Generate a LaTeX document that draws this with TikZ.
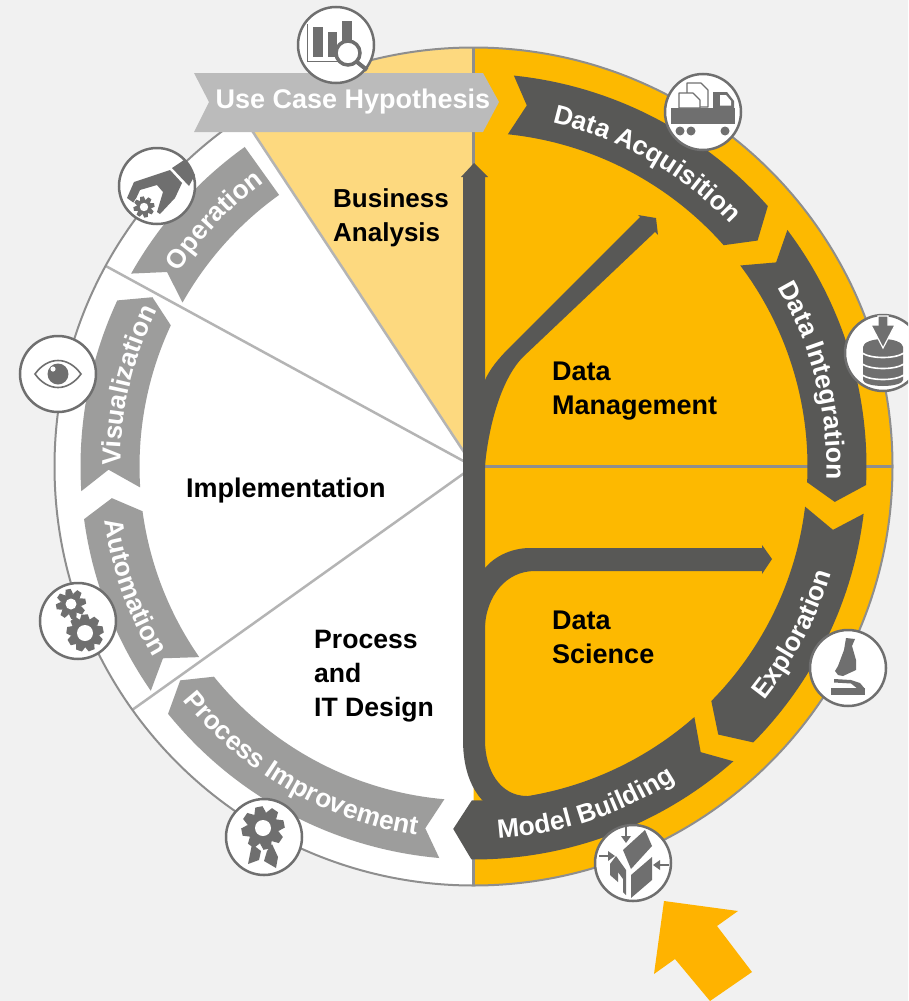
\documentclass[tikz,border=0pt]{standalone}
\usepackage{fontspec}
\setmainfont{Liberation Sans}
\usetikzlibrary{decorations.text}
\definecolor{bgc}{HTML}{F1F1F1}
\definecolor{orangec}{HTML}{FDB900}
\definecolor{palec}{HTML}{FDD97F}
\definecolor{darkc}{HTML}{585856}
\definecolor{midc}{HTML}{9D9D9C}
\definecolor{bannerc}{HTML}{BBBBBB}
\definecolor{ringc}{HTML}{8E8E8E}
\definecolor{spokec}{HTML}{B4B4B4}
\definecolor{iconc}{HTML}{6F6F6F}
\definecolor{arrowc}{HTML}{FFB300}
\tikzset{
  x=1pt,y=1pt,
  bandfill/.style={fill=#1,draw=none},
  ic/.style={fill=iconc,draw=none},
  icl/.style={draw=iconc,line width=1.1pt,fill=white,line join=round},
  disc/.style={circle,draw=iconc,line width=2.5pt,fill=white,minimum size=76pt,inner sep=0pt},
  blacklabel/.style={font=\fontsize{27}{34}\selectfont\bfseries,text=black,inner sep=0pt,align=left,anchor=west},
}
\newcommand\bandfont{\fontsize{26.4}{27}\selectfont\bfseries\color{white}}
% a1 a2 notch tip colour : clockwise chevron
\newcommand\chev[5]{\fill[bandfill=#5] (#1:393) arc[start angle=#1,end angle=#2,radius=393pt] -- (#4:363) -- (#2:334) arc[start angle=#2,end angle=#1,radius=334pt] -- (#3:365) -- cycle;}
% text, centre angle, half span (negative: counter-clockwise), radius
\newcommand\bandtext[4]{\path[decorate,decoration={text along path,text align=center,text={|\bandfont|#1}}] ({#2+#3}:#4) arc[start angle={#2+#3},end angle={#2-#3},radius=#4pt];}
% x y bodyradius outerradius teeth holeradius
\newcommand\gearshape[6]{\begin{scope}[shift={(#1,#2)}]
 \fill[ic] (0,0) circle[radius=#3pt];
 \foreach \k in {1,...,#5}{\fill[ic,rotate={\k*360/#5+11}] ({#3-1},{-0.27*#4}) -- (#4,{-0.17*#4}) -- (#4,{0.17*#4}) -- ({#3-1},{0.27*#4}) -- cycle;}
 \fill[white] (0,0) circle[radius=#6pt];
\end{scope}}
\begin{document}
\begin{tikzpicture}
\useasboundingbox (0,0) rectangle (908,-1001);
\clip (0,0) rectangle (908,-1001);
\fill[bgc] (0,0) rectangle (908,-1001);

% ---- ring ----
\begin{scope}[shift={(473.5,-466.5)}]
 \fill[white] (0,0) circle[radius=419pt];
 \fill[orangec] (90:419) arc[start angle=90,end angle=-90,radius=419pt] -- cycle;
 \fill[palec] (0,0) -- (90:419) arc[start angle=90,end angle=123.4,radius=419pt] -- cycle;
 \draw[spokec,line width=2.5pt] (0,0) -- (123.4:419);
 \draw[spokec,line width=2.5pt] (0,0) -- (151.4:419);
 \draw[spokec,line width=2.5pt] (0,0) -- (215.5:419);
 \draw[ringc,line width=2.5pt] (0,0) -- (0:419);
 \draw[ringc,line width=2.5pt] (0,0) -- (90:419);
 \draw[ringc,line width=2.5pt] (0,-380) -- (0,-419);
 \draw[ringc,line width=2pt] (0,0) circle[radius=419pt];
\end{scope}

% ---- trunk with branches ----
\fill[darkc] (463,-177) -- (461,-177) -- (474,-163) -- (488,-177) -- (485,-177) -- (485,-740)
  .. controls (485,-770) and (500,-796) .. (527,-796) -- (540,-815) -- (484,-815) -- (484,-802)
  .. controls (472,-790) and (463,-770) .. (463,-740) -- cycle;
\fill[darkc] (485,-380) .. controls (490,-369) and (498,-359) .. (510,-347) -- (640,-217) -- (638,-215) -- (656,-218) -- (658,-235) -- (655,-232) -- (523,-357) .. controls (505,-375) and (490,-415) .. (485,-465) -- cycle;
\fill[darkc] (485,-568) .. controls (495,-556) and (512,-548) .. (530,-548) -- (762,-548) -- (762,-545) -- (772,-559) -- (762,-574) -- (762,-571) -- (535,-571) .. controls (505,-571) and (487,-597) .. (485,-625) -- cycle;

% ---- bands ----
\begin{scope}[shift={(473.5,-466.5)}]
 \chev{84.1}{41.5}{81.6}{38.5}{darkc}
 \chev{37}{-2.7}{34}{-5.6}{darkc}
 \chev{-6.9}{-44.6}{-10}{-47.6}{darkc}
 \chev{-48.6}{-90.3}{-51.5}{-93.2}{darkc}
 \chev{-95}{-141}{-97.6}{-143.9}{midc}
 \chev{-145.2}{-172.3}{-148.3}{-175}{midc}
 \chev{-176.4}{-205}{-179.5}{-207.8}{midc}
 \fill[bandfill=midc] (150.6:393) arc[start angle=150.6,end angle=125.6,radius=393pt] -- (125.6:334) arc[start angle=125.6,end angle=150.6,radius=334pt] -- (147.6:363) -- cycle;
 \bandtext{Data Acquisition}{60.2}{40}{353}
 \bandtext{Data Integration}{14.2}{40}{353}
 \bandtext{Exploration}{-27.7}{-40}{373}
 \bandtext{Model Building}{-71.7}{-40}{373}
 \bandtext{Process Improvement}{-120}{-40}{373}
 \bandtext{Automation}{-160.4}{-40}{373}
 \bandtext{Visualization}{166.8}{40}{353}
 \bandtext{Operation}{136.5}{40}{353}
\end{scope}

% ---- banner ----
\fill[bannerc] (194,-73) -- (209,-102) -- (194,-132) -- (483,-132) -- (499,-102) -- (483,-73) -- cycle;
\node[anchor=base,inner sep=0pt,font=\fontsize{27}{27}\selectfont\bfseries,text=white] (usecase) at (353,-108) {Use Case Hypothesis};

% ---- section labels ----
\node[blacklabel,font=\fontsize{26}{34}\selectfont\bfseries] (business) at (333,-217.5) {Business\\Analysis};
\node[blacklabel] (management) at (552,-391) {Data\\Management};
\node[blacklabel] (science) at (552,-637) {Data\\Science};
\node[blacklabel] (implementation) at (186,-491) {Implementation};
\node[blacklabel,font=\fontsize{26.6}{34}\selectfont\bfseries] (process) at (314,-676) {Process\\and\\IT Design};

% ---- icons ----
\node[disc] (iconchart) at (336,-45) {};
\begin{scope}[shift={(336,-45)}]
 \draw[iconc,line width=1pt] (-29,21) -- (-29,-16) -- (2,-16);
 \fill[ic] (-23,-12) rectangle (-13,18);
 \fill[ic] (-8,-12) rectangle (0.6,13);
 \fill[ic] (6,4) rectangle (16,24);
 \draw[iconc,line width=3.5pt,fill=white] (12,-8) circle[radius=12pt];
 \draw[iconc,line width=4pt] (21,-17) -- (31,-25);
\end{scope}

\node[disc] (icontruck) at (703,-112) {};
\begin{scope}[shift={(703,-112)}]
 \fill[ic] (-32,4) rectangle (32,-12);
 \foreach \p in {-23,-12,22}{\fill[ic] (\p,-19) circle[radius=4.5pt];}
 \draw[icl] (-16,29) -- (-2,29) -- (5,22) -- (5,5) -- (-16,5) -- cycle;
 \draw[icl] (-24,19) -- (-10,19) -- (-3,12) -- (-3,4) -- (-24,4) -- cycle;
 \fill[ic] (10,4) -- (10,20) -- (24,20) -- (31,11) -- (31,4) -- cycle;
 \fill[white] (17,6.5) -- (17,17) -- (23,17) -- (28,11) -- (28,6.5) -- cycle;
\end{scope}

\node[disc] (icondb) at (883,-353) {};
\begin{scope}[shift={(883,-353)}]
 \fill[ic] (-20,6) arc[start angle=180,end angle=0,x radius=20pt,y radius=8pt] -- (20,-27) arc[start angle=0,end angle=-180,x radius=20pt,y radius=6pt] -- cycle;
 \foreach \q in {0,-11,-22}{\draw[white,line width=1.6pt] (-21,\q) .. controls (-12,{\q-6}) and (12,{\q-6}) .. (21,\q);}
 \fill[ic,draw=white,line width=1.2pt] (-5,37) -- (5,37) -- (5,28) -- (12,28) -- (0,5) -- (-12,28) -- (-5,28) -- cycle;
\end{scope}

\node[disc] (iconeye) at (58,-374) {};
\begin{scope}[shift={(58,-374)}]
 \draw[iconc,line width=1.6pt] (-23,0) .. controls (-10,18) and (10,18) .. (23,0) .. controls (10,-18) and (-10,-18) .. (-23,0) -- cycle;
 \fill[ic] (0,0) circle[radius=10.5pt];
 \fill[white] (-5,5) circle[radius=2.6pt];
\end{scope}

\node[disc] (icongears) at (78,-621) {};
\gearshape{71}{-604}{10}{15}{8}{5.5}
\gearshape{85}{-633}{14}{18.5}{9}{8}

\node[disc] (iconop) at (157,-186) {};
\begin{scope}[shift={(157,-186)}]
 \fill[ic] (15,18) -- (27,26) -- (38,11) -- (32,0) -- cycle;
 \fill[ic] (-23,4) -- (13,16) -- (25,3) -- (18,-12) -- (3,-28) -- (0,-26) -- (6,-6) -- (0,1) -- (-17,-4) -- (-23,-17) -- (-30,-12) -- cycle;
\end{scope}
\fill[white] (144,-207) circle[radius=11.5pt];
\gearshape{144}{-207}{7}{10.5}{8}{4.2}

\node[disc] (iconaward) at (264,-837) {};
\begin{scope}[shift={(264,-837)}]
 \fill[ic] (-12,-7) -- (-16,-27) -- (-5,-23) -- (-3,-14) -- cycle;
 \fill[ic] (3,-14) -- (0,-24) -- (12,-31) -- (14,-20) -- (8,-7) -- cycle;
\end{scope}
\gearshape{263}{-828}{16}{21.5}{8}{8}

\node[disc] (iconmodel) at (633,-863) {};
\begin{scope}[shift={(633,-863)}]
 \fill[ic] (-10,13) -- (12,33) -- (19,17) -- (-2,-6) -- cycle;
 \fill[ic] (-2,-12) -- (19,6) -- (19,-17) -- (-2,-35) -- cycle;
 \fill[ic] (-23,-1) -- (-17,7) -- (-7,-7) -- (-7,-32) -- (-10,-29) -- (-10,-16) -- (-15,-9) -- (-15,-19) -- (-23,-12) -- cycle;
 \draw[iconc,line width=1.6pt] (-7,36) -- (-7,24);
 \fill[ic] (-12,27) -- (-2,27) -- (-7,20) -- cycle;
 \draw[iconc,line width=1.6pt] (-34,7) -- (-22,7);
 \fill[ic] (-25,12) -- (-25,2) -- (-18,7) -- cycle;
 \draw[iconc,line width=1.6pt] (36,-2) -- (24,-2);
 \fill[ic] (27,3) -- (27,-7) -- (20,-2) -- cycle;
\end{scope}

\node[disc] (iconscope) at (848,-668) {};
\begin{scope}[shift={(848,-668)}]
 \fill[ic] (-2,30) -- (7,29) -- (4,22) -- (8,8) -- (8,-2) -- (-5,-8) -- (-10,-7) -- (-13,-3) -- (-10,2) -- (-4,18) -- cycle;
 \fill[ic] (-17,-20) rectangle (17,-27);
 \fill[ic] (-14,-11) -- (3,-12) -- (12,-15) -- (17,-21) -- (10,-21) -- (3,-15.5) -- (-14,-14.5) -- cycle;
\end{scope}

% ---- big arrow ----
\fill[arrowc] (664,-901) -- (738,-911) -- (717,-926) -- (752,-972) -- (710,-1001) -- (675,-959) -- (654,-974) -- cycle;
\end{tikzpicture}
\end{document}
